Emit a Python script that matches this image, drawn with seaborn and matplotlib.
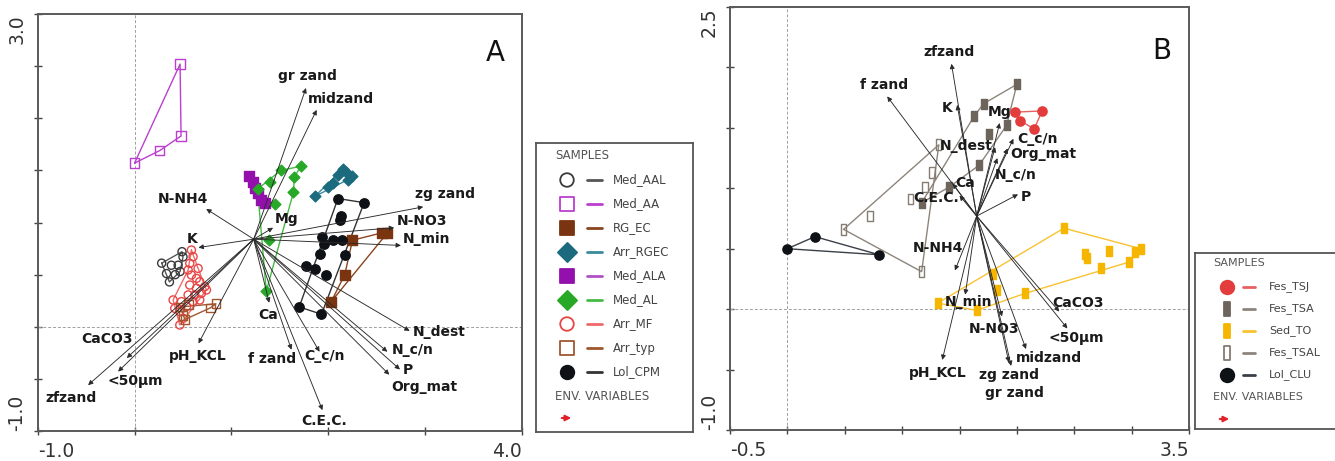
import numpy as np
import pandas as pd
import matplotlib
matplotlib.use("Agg")
import matplotlib.pyplot as plt
from matplotlib.path import Path
from matplotlib.patches import FancyArrowPatch
import seaborn as sns

sns.set_theme(style="white")
plt.rcParams["font.family"] = ["DejaVu Sans"]

# ---------------- Panel A data ----------------
A_env_names = ["gr zand", "midzand", "N-NH4", "Mg", "K", "zg zand", "N-NO3", "N_min",
               "N_dest", "N_c/n", "P", "Org_mat", "C.E.C.", "C_c/n", "f zand", "Ca",
               "pH_KCL", "CaCO3", "<50µm", "zfzand"]
A_env_x = [1.77, 1.88, 0.74, 1.43, 0.66, 2.98, 2.68, 2.75, 2.84, 2.61, 2.74, 2.63, 1.94, 1.91,
           1.62, 1.39, 0.66, -0.08, -0.17, -0.48]
A_env_y = [2.29, 2.08, 1.13, 0.95, 0.76, 1.15, 0.95, 0.78, -0.04, -0.24, -0.41, -0.46, -0.80,
           -0.24, -0.22, 0.23, -0.16, -0.30, -0.43, -0.56]
A_origin = (1.23, 0.84)

A_groups = ["Med_AAL", "Med_AA", "RG_EC", "Arr_RGEC", "Med_ALA", "Med_AL", "Arr_MF", "Arr_typ", "Lol_CPM"]

med_aal_x = [0.28, 0.38, 0.49, 0.50, 0.45, 0.47, 0.42, 0.36, 0.33]
med_aal_y = [0.61, 0.59, 0.72, 0.67, 0.59, 0.53, 0.50, 0.43, 0.51]
med_aal_hull = [0, 2, 3, 5, 7, 0]

med_aa_x = [0.47, 0.48, 0.26, 0.00]
med_aa_y = [2.52, 1.83, 1.69, 1.57]
med_aa_hull = [3, 0, 1, 2, 3]

rg_ec_x = [2.03, 2.17, 2.25, 2.55, 2.61]
rg_ec_y = [0.24, 0.50, 0.83, 0.90, 0.90]
rg_ec_hull = [0, 4, 3, 2, 1, 0]

arr_rgec_x = [1.86, 2.00, 2.05, 2.10, 2.15, 2.20, 2.25, 2.18]
arr_rgec_y = [1.25, 1.34, 1.38, 1.46, 1.51, 1.41, 1.45, 1.48]
arr_rgec_hull = [0, 4, 6, 5, 0]

med_ala_x = [1.18, 1.22, 1.24, 1.27, 1.31, 1.35]
med_ala_y = [1.45, 1.39, 1.33, 1.28, 1.22, 1.19]
med_ala_hull = [0, 5, 0]

med_al_x = [1.72, 1.65, 1.51, 1.40, 1.27, 1.64, 1.45, 1.39, 1.36]
med_al_y = [1.54, 1.44, 1.50, 1.39, 1.32, 1.29, 1.18, 0.83, 0.34]
med_al_hull = [8, 4, 2, 0, 1, 5, 8]

arr_mf_x = [0.587, 0.604, 0.570, 0.656, 0.553, 0.587, 0.639, 0.673, 0.570, 0.639, 0.725, 0.742,
            0.690, 0.622, 0.553, 0.673, 0.604, 0.536, 0.484, 0.398, 0.467, 0.501, 0.467, 0.415]
arr_mf_y = [0.736, 0.672, 0.608, 0.560, 0.544, 0.496, 0.464, 0.432, 0.400, 0.369, 0.385, 0.353,
            0.321, 0.305, 0.305, 0.257, 0.241, 0.193, 0.241, 0.257, 0.145, 0.081, 0.017, 0.177]
arr_mf_hull = [0, 3, 11, 22, 19, 4, 0]

arr_typ_x = [0.47, 0.56, 0.84, 0.78, 0.50, 0.52]
arr_typ_y = [0.19, 0.21, 0.22, 0.18, 0.11, 0.07]
arr_typ_hull = [0, 2, 3, 5, 0]

lol_cpm_x = [2.10, 2.37, 2.12, 2.13, 1.94, 2.05, 2.14, 1.96, 2.17, 1.91, 1.77, 1.86, 1.98, 1.70, 1.93]
lol_cpm_y = [1.23, 1.19, 1.02, 1.06, 0.86, 0.83, 0.83, 0.79, 0.69, 0.70, 0.58, 0.55, 0.50, 0.19, 0.12]
lol_cpm_hull = [0, 1, 14, 13, 0]

# ---------------- Panel B data ----------------
B_env_names = ["zfzand", "f zand", "K", "Mg", "C_c/n", "N_dest", "Org_mat", "N_c/n", "Ca", "C.E.C.",
               "P", "N-NH4", "N_min", "N-NO3", "CaCO3", "<50µm", "midzand", "zg zand", "gr zand", "pH_KCL"]
B_env_x = [1.43, 0.87, 1.48, 1.85, 1.97, 1.81, 1.92, 1.83, 1.44, 1.50,
           2.01, 1.46, 1.55, 1.87, 2.37, 2.44, 2.08, 1.93, 1.95, 1.35]
B_env_y = [2.03, 1.76, 1.69, 1.54, 1.41, 1.34, 1.33, 1.25, 1.04, 0.94,
           0.95, 0.32, 0.12, -0.06, -0.02, -0.16, -0.33, -0.44, -0.47, -0.42]
B_origin = (1.65, 0.77)

B_groups = ["Fes_TSJ", "Fes_TSA", "Sed_TO", "Fes_TSAL", "Lol_CLU"]

fes_tsj_x = [1.98, 2.03, 2.15, 2.22]
fes_tsj_y = [1.63, 1.56, 1.49, 1.64]
fes_tsj_hull = [0, 3, 2, 1, 0]

fes_tsa_x = [2.00, 1.71, 1.63, 1.91, 1.76, 1.67, 1.41, 1.17]
fes_tsa_y = [1.86, 1.70, 1.60, 1.52, 1.45, 1.19, 1.01, 0.88]
fes_tsa_hull = [0, 3, 5, 6, 7, 2, 1, 0]

sed_to_x = [2.41, 3.08, 3.03, 2.98, 2.73, 2.80, 2.59, 2.61, 2.07, 1.79, 1.83, 1.65, 1.31]
sed_to_y = [0.67, 0.50, 0.47, 0.39, 0.34, 0.48, 0.46, 0.42, 0.13, 0.29, 0.16, -0.01, 0.05]
sed_to_hull = [12, 0, 1, 3, 8, 11, 12]

fes_tsal_x = [1.32, 1.26, 1.20, 1.07, 0.72, 0.49, 1.17]
fes_tsal_y = [1.36, 1.13, 1.01, 0.91, 0.77, 0.66, 0.31]
fes_tsal_hull = [5, 0, 6, 5]

lol_clu_x = [0.00, 0.24, 0.80]
lol_clu_y = [0.50, 0.60, 0.45]
lol_clu_hull = [0, 1, 2, 0]

# ---------------- styles ----------------
RECT = Path([(-0.5, -1.0), (0.5, -1.0), (0.5, 1.0), (-0.5, 1.0), (-0.5, -1.0)],
            [Path.MOVETO, Path.LINETO, Path.LINETO, Path.LINETO, Path.CLOSEPOLY])

# name: (x, y, hull, marker, face, edge, line color, size)
A_style = {
    "Med_AAL": (med_aal_x, med_aal_y, med_aal_hull, "o", "none", "#3a3a3a", "#555555", 34),
    "Med_AA": (med_aa_x, med_aa_y, med_aa_hull, "s", "none", "#bb3fcf", "#bb3fcf", 44),
    "RG_EC": (rg_ec_x, rg_ec_y, rg_ec_hull, "s", "#7a3410", "#7a3410", "#8a4520", 52),
    "Arr_RGEC": (arr_rgec_x, arr_rgec_y, arr_rgec_hull, "D", "#1b6a7d", "#1b6a7d", "#3b8a9d", 30),
    "Med_ALA": (med_ala_x, med_ala_y, med_ala_hull, "s", "#9410ad", "#9410ad", "#b050c5", 44),
    "Med_AL": (med_al_x, med_al_y, med_al_hull, "D", "#27a827", "#27a827", "#45bb45", 30),
    "Arr_MF": (arr_mf_x, arr_mf_y, arr_mf_hull, "o", "none", "#e84646", "#ee6a6a", 34),
    "Arr_typ": (arr_typ_x, arr_typ_y, arr_typ_hull, "s", "none", "#a0572f", "#a0572f", 40),
    "Lol_CPM": (lol_cpm_x, lol_cpm_y, lol_cpm_hull, "o", "#0e1116", "#0e1116", "#333333", 46),
}
B_style = {
    "Fes_TSJ": (fes_tsj_x, fes_tsj_y, fes_tsj_hull, "o", "#e23c3c", "#e23c3c", "#e86060", 44),
    "Fes_TSA": (fes_tsa_x, fes_tsa_y, fes_tsa_hull, RECT, "#6d645b", "#6d645b", "#8d857c", 58),
    "Sed_TO": (sed_to_x, sed_to_y, sed_to_hull, RECT, "#f6b600", "#f6b600", "#f8c230", 58),
    "Fes_TSAL": (fes_tsal_x, fes_tsal_y, fes_tsal_hull, RECT, "none", "#857c72", "#8d857c", 58),
    "Lol_CLU": (lol_clu_x, lol_clu_y, lol_clu_hull, "o", "#0e1116", "#0e1116", "#3a3f48", 44),
}

# label offsets (pixels, dx, dy, ha)
A_lab = {"gr zand": (1, 12, "center"), "midzand": (-9, 11, "left"), "N-NH4": (2, 10, "right"),
         "Mg": (2, 9, "left"), "K": (-6, 9, "center"), "zg zand": (-8, 13, "left"),
         "N-NO3": (3, 7, "left"), "N_min": (2, 6, "left"), "N_dest": (3, -1, "left"),
         "N_c/n": (4, 2, "left"), "P": (3, -1, "left"), "Org_mat": (2, -12, "left"),
         "C.E.C.": (2, -11, "center"), "C_c/n": (-15, -4, "left"), "f zand": (5, -9, "right"),
         "Ca": (-1, -12, "center"), "pH_KCL": (-1, -13, "center"), "CaCO3": (6, 19, "right"),
         "<50µm": (-11, -9, "left"), "zfzand": (9, -13, "right")}
B_lab = {"zfzand": (-2, 12, "center"), "f zand": (-3, 11, "center"), "K": (-5, -3, "right"),
         "Mg": (0, 11, "center"), "C_c/n": (4, 0, "left"), "N_dest": (-2, 1, "right"),
         "Org_mat": (3, -6, "left"), "N_c/n": (-3, -17, "left"), "Ca": (3, 0, "left"),
         "C.E.C.": (-1, -2, "right"), "P": (3, -3, "left"), "N-NH4": (-17, 22, "center"),
         "N_min": (3, -7, "center"), "N-NO3": (-8, -13, "center"), "CaCO3": (-7, 9, "left"),
         "<50µm": (9, -10, "center"), "midzand": (-10, -9, "left"), "zg zand": (0, -13, "center"),
         "gr zand": (3, -27, "center"), "pH_KCL": (-5, -13, "center")}

fig = plt.figure(figsize=(13.35, 4.61), dpi=100)
axA = fig.add_axes([37.7 / 1335, 30 / 461, 484.3 / 1335, 417 / 461])
axB = fig.add_axes([730 / 1335, 31 / 461, 459 / 1335, 423 / 461])


def draw_panel(ax, styles, names, ex, ey, origin, labs, xlim, ylim, xminor, yminor, letter):
    ax.set_xlim(*xlim)
    ax.set_ylim(*ylim)
    ax.axvline(0, color="#a0a0a0", lw=0.7, ls=(0, (3, 2)), zorder=1)
    ax.axhline(0, color="#a0a0a0", lw=0.7, ls=(0, (3, 2)), zorder=1)
    for name, (gx, gy, hull, mk, fc, ec, lc, s) in styles.items():
        hx = [gx[i] for i in hull]
        hy = [gy[i] for i in hull]
        ax.plot(hx, hy, color=lc, lw=1.0, zorder=2)
        df = pd.DataFrame({"x": gx, "y": gy})
        sns.scatterplot(data=df, x="x", y="y", ax=ax, marker=mk, s=s, color=ec,
                        facecolor=fc, edgecolor=ec, linewidth=1.0, zorder=3, legend=False)
    for n, x, y in zip(names, ex, ey):
        ax.annotate("", xy=(x, y), xytext=origin,
                    arrowprops=dict(arrowstyle="-|>", color="#2a2a2a", lw=0.65,
                                    mutation_scale=7, shrinkA=0, shrinkB=0), zorder=4)
        dx, dy, ha = labs[n]
        ax.annotate(n, xy=(x, y), xytext=(dx, dy), textcoords="offset pixels",
                    ha=ha, va="center", fontsize=10, fontweight="bold", color="#1a1a1a", zorder=5)
    ax.set_xlabel("")
    ax.set_ylabel("")
    ax.set_xticks(xminor, minor=True)
    ax.set_yticks(yminor, minor=True)
    ax.set_xticks(list(xlim))
    ax.set_yticks(list(ylim))
    ax.set_xticklabels([f"{v:.1f}" for v in xlim])
    ax.set_yticklabels([f"{v:.1f}" for v in ylim], rotation=90)
    xl = ax.get_xticklabels()
    xl[0].set_ha("left")
    xl[1].set_ha("right")
    yl = ax.get_yticklabels()
    yl[0].set_va("bottom")
    yl[1].set_va("top")
    ax.tick_params(axis="both", which="both", direction="inout", length=6, width=1,
                   color="#444444", labelsize=13.5, labelcolor="#333333", pad=5,
                   bottom=True, left=True)
    ax.tick_params(axis="y", which="major", pad=5)
    for sp in ax.spines.values():
        sp.set_color("#5a5a5a")
        sp.set_linewidth(1.4)
    ax.text(letter[1], letter[2], letter[0], transform=ax.transAxes, fontsize=20,
            ha="center", va="center", color="#111111")


draw_panel(axA, A_style, A_env_names, A_env_x, A_env_y, A_origin, A_lab,
           (-1.0, 4.0), (-1.0, 3.0), np.arange(0, 4, 1.0), np.arange(-0.5, 3.0, 0.5),
           ("A", 0.944, 0.906))
draw_panel(axB, B_style, B_env_names, B_env_x, B_env_y, B_origin, B_lab,
           (-0.5, 3.5), (-1.0, 2.5), np.arange(0, 3.5, 0.5), np.arange(-0.5, 2.5, 0.5),
           ("B", 0.941, 0.896))


def draw_legend(rect_px, styles, title_xy, first_y, step, mk_x, ln_x, tx_x, font, msize):
    left, top, w, h = rect_px
    lax = fig.add_axes([left / 1335, (461 - top - h) / 461, w / 1335, h / 461])
    lax.set_xlim(0, w)
    lax.set_ylim(h, 0)
    lax.set_xticks([])
    lax.set_yticks([])
    for sp in lax.spines.values():
        sp.set_color("#555555")
        sp.set_linewidth(1.3)
    lax.text(title_xy[0], title_xy[1], "SAMPLES", fontsize=font, color="#555555", va="center")
    for i, (name, (gx, gy, hull, mk, fc, ec, lc, s)) in enumerate(styles.items()):
        y = first_y + i * step
        lax.scatter([mk_x], [y], marker=mk, s=msize, facecolor=fc, edgecolor=ec, linewidth=1.3)
        lax.plot(ln_x, [y, y], color=lc, lw=2)
        lax.text(tx_x, y, name, fontsize=font, color="#444444", va="center")
    ey = first_y + len(styles) * step
    lax.text(title_xy[0], ey, "ENV. VARIABLES", fontsize=font, color="#555555", va="center")
    lax.add_patch(FancyArrowPatch((title_xy[0] + 4, ey + 22), (title_xy[0] + 19, ey + 22),
                                  arrowstyle="-|>", mutation_scale=8, color="#e32027", lw=1.5))


draw_legend((536, 143, 157, 289), A_style, (19, 12), 37, 24, 31, (51, 66), 77, 8.5, 95)
draw_legend((1195, 253, 150, 176), B_style, (18, 10), 34, 22, 32, (48, 60), 74, 8, 95)

fig.savefig("out.png", dpi=100)
